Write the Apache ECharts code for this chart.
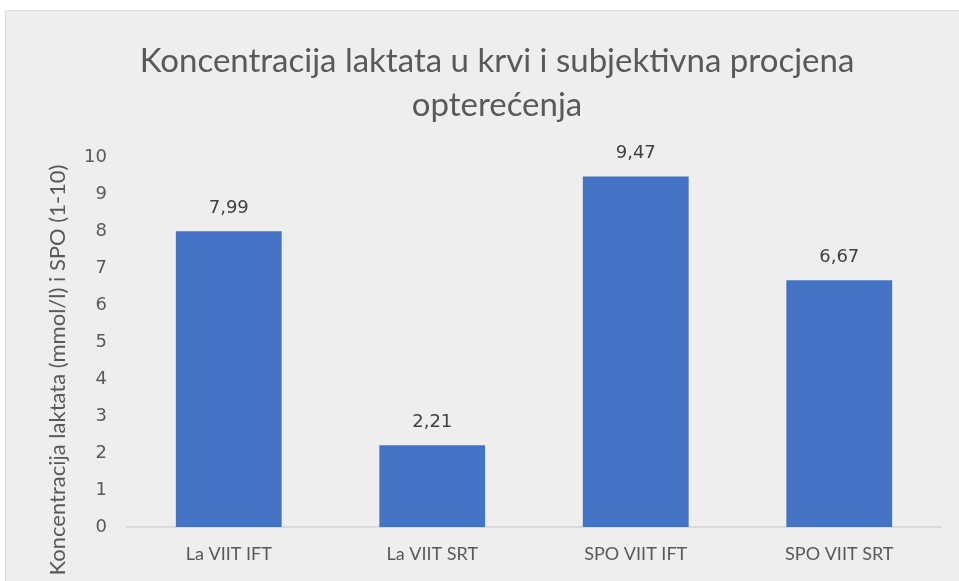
<!DOCTYPE html>
<html>
<head>
<meta charset="utf-8">
<script src="https://cdn.jsdelivr.net/npm/echarts@6/dist/echarts.min.js"></script>
<style>
  html, body { margin: 0; padding: 0; background: #ffffff; }
  #chart { width: 959px; height: 581px; }
</style>
</head>
<body>
<div id="chart"></div>
<script>
const titleText = 'Koncentracija laktata u krvi i subjektivna procjena\nopterećenja'
const yAxisName = 'Koncentracija laktata (mmol/l) i SPO (1-10)'
const categories = ['La VIIT IFT', 'La VIIT SRT', 'SPO VIIT IFT', 'SPO VIIT SRT']
const values = [7.99, 2.21, 9.47, 6.67]

var chartDom = document.getElementById('chart')
var myChart = echarts.init(chartDom)
var option

option = {
  backgroundColor: '#ffffff',
  graphic: [
    {
      type: 'rect',
      z: -10,
      shape: { x: 5.5, y: 10.5, width: 960, height: 580 },
      style: { fill: '#eeeeee', stroke: '#d9d9d9', lineWidth: 1 }
    }
  ],
  title: {
    text: titleText,
    left: 492,
    textAlign: 'center',
    top: 34,
    textStyle: {
      fontFamily: 'Lato',
      fontSize: 33,
      fontWeight: 'normal',
      color: '#595959',
      lineHeight: 44
    }
  },
  grid: {
    left: 127,
    right: 18,
    top: 157,
    bottom: 54
  },
  xAxis: {
    type: 'category',
    data: categories,
    axisLine: { lineStyle: { color: '#d9d9d9', width: 2 } },
    axisTick: { show: false },
    axisLabel: {
      margin: 18,
      fontFamily: 'Lato',
      fontSize: 18,
      color: '#595959'
    }
  },
  yAxis: {
    type: 'value',
    min: 0,
    max: 10,
    interval: 1,
    splitLine: { show: false },
    axisLine: { show: false },
    axisTick: { show: false },
    axisLabel: {
      margin: 20,
      fontFamily: 'DejaVu Sans',
      fontSize: 18,
      color: '#595959'
    },
    name: yAxisName,
    nameLocation: 'middle',
    nameGap: 58,
    nameTextStyle: {
      fontFamily: 'Lato',
      fontSize: 22,
      color: '#595959',
      padding: [0, 56, 0, 0]
    }
  },
  series: [
    {
      type: 'bar',
      data: values,
      barWidth: '52%',
      itemStyle: { color: '#4472c4' },
      label: {
        show: true,
        position: 'top',
        distance: 14,
        fontFamily: 'DejaVu Sans',
        fontSize: 18,
        color: '#404040',
        formatter: function (params) {
          return params.value.toFixed(2).replace('.', ',')
        }
      }
    }
  ]
}
option && myChart.setOption(option)
</script>
</body>
</html>
